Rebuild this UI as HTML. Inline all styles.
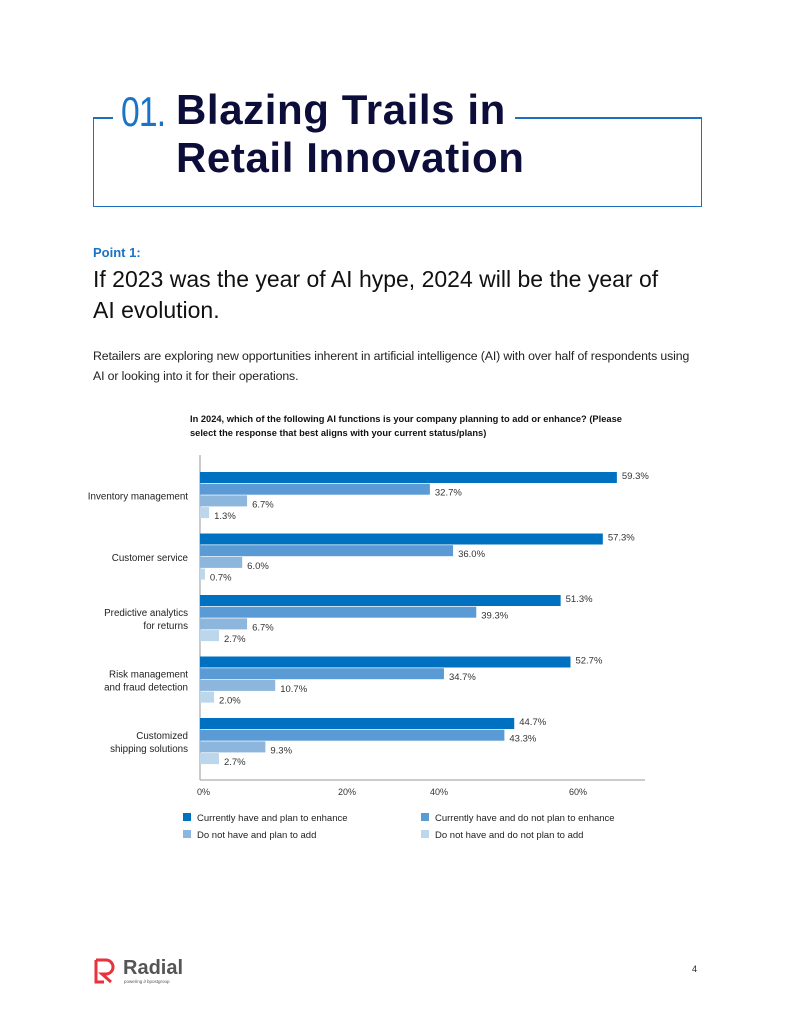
<!DOCTYPE html>
<html><head><meta charset="utf-8"><style>
body{margin:0;width:791px;height:1024px;background:#fff;position:relative;font-family:"Liberation Sans",sans-serif;overflow:hidden}
.a{position:absolute;white-space:nowrap}
</style></head><body>
<div class="a" style="left:93px;top:117px;width:607px;height:89px;border:1.5px solid #1f6fc0;border-top:none"></div>
<div class="a" style="left:93px;top:117px;width:20px;height:1.5px;background:#1f6fc0"></div>
<div class="a" style="left:515px;top:117px;width:187px;height:1.5px;background:#1f6fc0"></div>
<div class="a" style="left:121px;top:88px;font-size:42px;color:#1a73c7;letter-spacing:-1px;font-weight:300;transform:scaleX(0.8);transform-origin:left">01.</div>
<div class="a" style="left:176px;top:86px;font-size:42px;line-height:48px;font-weight:bold;color:#0d0d3a;letter-spacing:0.6px">Blazing Trails in<br>Retail Innovation</div>
<div class="a" style="left:93px;top:245px;font-size:13px;font-weight:bold;color:#1a73c7">Point 1:</div>
<div class="a" style="left:93px;top:264px;font-size:23px;line-height:31px;color:#111">If 2023 was the year of AI hype, 2024 will be the year of<br>AI evolution.</div>
<div class="a" style="left:93px;top:346px;font-size:12.3px;line-height:20px;color:#222;letter-spacing:-0.12px">Retailers are exploring new opportunities inherent in artificial intelligence (AI) with over half of respondents using<br>AI or looking into it for their operations.</div>
<div class="a" style="left:190px;top:413px;font-size:9.6px;line-height:14px;font-weight:bold;color:#111;transform:scaleX(0.97);transform-origin:left">In 2024, which of the following AI functions is your company planning to add or enhance? (Please<br>select the response that best aligns with your current status/plans)</div>
<svg class="a" id="chart" style="left:0;top:0" width="791" height="1024"></svg>
<div class="a" style="left:197px;top:787px;font-size:9px;color:#333">0%</div>
<div class="a" style="left:338px;top:787px;font-size:9px;color:#333">20%</div>
<div class="a" style="left:430px;top:787px;font-size:9px;color:#333">40%</div>
<div class="a" style="left:569px;top:787px;font-size:9px;color:#333">60%</div>
<div class="a" style="left:183px;top:813px;font-size:9.5px;color:#222"><span style="display:inline-block;width:8px;height:8px;background:#0070c0;margin-right:6px"></span>Currently have and plan to enhance</div>
<div class="a" style="left:421px;top:813px;font-size:9.5px;color:#222"><span style="display:inline-block;width:8px;height:8px;background:#5b9bd5;margin-right:6px"></span>Currently have and do not plan to enhance</div>
<div class="a" style="left:183px;top:830px;font-size:9.5px;color:#222"><span style="display:inline-block;width:8px;height:8px;background:#8cb6dc;margin-right:6px"></span>Do not have and plan to add</div>
<div class="a" style="left:421px;top:830px;font-size:9.5px;color:#222"><span style="display:inline-block;width:8px;height:8px;background:#bcd6ec;margin-right:6px"></span>Do not have and do not plan to add</div>
<svg class="a" style="left:93px;top:958px" width="24" height="26"><path d="M3 2h10a7 7 0 0 1 0 14h-4l9 8" fill="none" stroke="#e8323c" stroke-width="3"/><path d="M3 2v22h8" fill="none" stroke="#e8323c" stroke-width="3"/></svg>
<div class="a" style="left:123px;top:957px;font-size:20px;font-weight:bold;color:#555">Radial</div>
<div class="a" style="left:124px;top:979px;font-size:4.5px;color:#555">powering ∂ bpostgroup</div>
<div class="a" style="left:692px;top:964px;font-size:9px;color:#222">4</div>
<script>
const categories=[["Inventory management"],["Customer service"],["Predictive analytics","for returns"],["Risk management","and fraud detection"],["Customized","shipping solutions"]];
const haveEnhance=[59.3,57.3,51.3,52.7,44.7];
const haveNoEnhance=[32.7,36.0,39.3,34.7,43.3];
const notHaveAdd=[6.7,6.0,6.7,10.7,9.3];
const notHaveNoAdd=[1.3,0.7,2.7,2.0,2.7];
const series=[haveEnhance,haveNoEnhance,notHaveAdd,notHaveNoAdd];
const colors=['#0070c0','#5b9bd5','#8cb6dc','#bcd6ec'];
const NS='http://www.w3.org/2000/svg',svg=document.getElementById('chart');
const x0=200,pxPer=7.03;
const xs=v=>x0+v*pxPer;
const ys=(i,s)=>472+i*61.5+s*11.7;
function mk(t,a){const e=document.createElementNS(NS,t);for(const k in a)e.setAttribute(k,a[k]);svg.appendChild(e);return e;}
let ax=mk('line',{x1:x0,y1:455,x2:x0,y2:780,stroke:'#999'});


let bx=mk('line',{x1:x0,y1:780,x2:645,y2:780,stroke:'#999'});


categories.forEach((c,i)=>{
 const cy=ys(i,2);
 c.forEach((ln,j)=>{const t=mk('text',{x:188,y:cy+4+(j-(c.length-1)/2)*13,'text-anchor':'end','font-size':'9.8',fill:'#222','font-family':'Liberation Sans,sans-serif'});t.textContent=ln;
 
 });
 series.forEach((s,k)=>{
  const r=mk('rect',{x:x0,y:ys(i,k),width:xs(s[i])-x0,height:11,fill:colors[k]});
  
  
  const t=mk('text',{x:xs(s[i])+5,y:ys(i,k)+(k==0?7:12),'font-size':'9.5',fill:'#333','font-family':'Liberation Sans,sans-serif'});
  t.textContent=s[i].toFixed(1)+'%';
  
  
 });
});
</script>
</body></html>
